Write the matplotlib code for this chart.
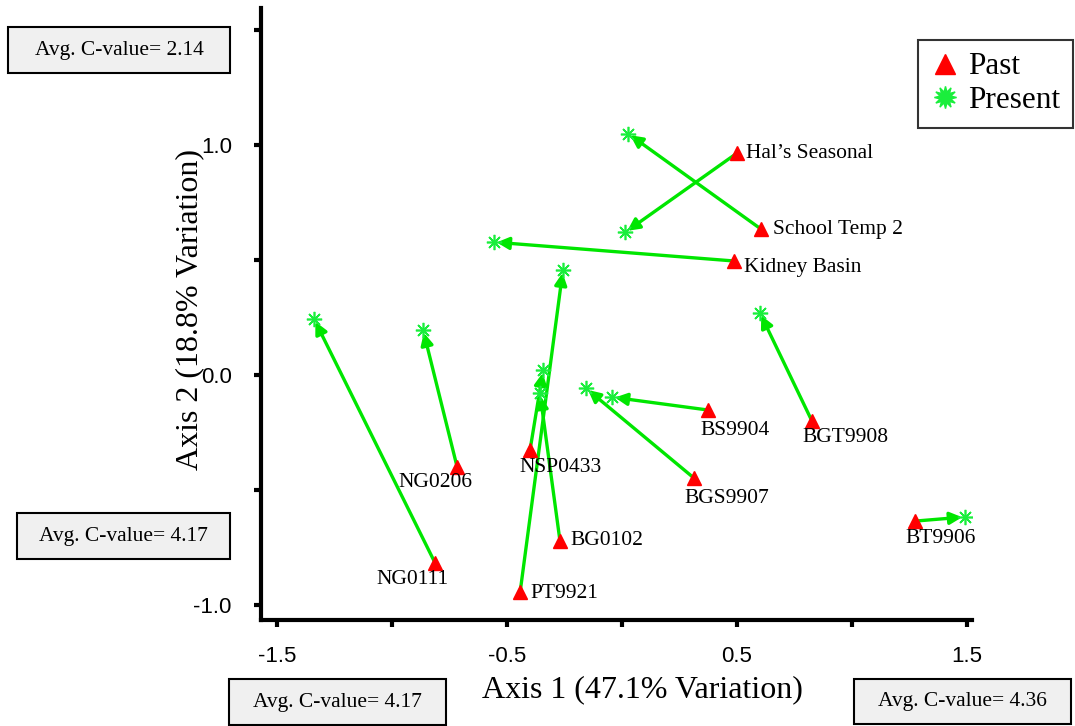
import matplotlib.pyplot as plt
from matplotlib.lines import Line2D
from matplotlib.patches import Rectangle

# site names and ordination scores (past -> present)
sites = ["Hal\u2019s Seasonal", "School Temp 2", "Kidney Basin", "NG0206", "NG0111",
         "NSP0433", "PT9921", "BG0102", "BS9904", "BGS9907", "BGT9908", "BT9906"]
past_x = [0.50, 0.604, 0.487, -0.717, -0.813, -0.40, -0.443, -0.27, 0.374, 0.313, 0.826, 1.274]
past_y = [0.965, 0.635, 0.496, -0.40, -0.817, -0.326, -0.943, -0.72, -0.152, -0.448, -0.20, -0.635]
present_x = [0.013, 0.026, -0.557, -0.865, -1.339, -0.343, -0.257, -0.357, -0.043, -0.157, 0.60, 1.491]
present_y = [0.62, 1.05, 0.578, 0.196, 0.243, 0.022, 0.457, -0.078, -0.096, -0.057, 0.27, -0.617]

cvalue_labels = ["Avg. C-value= 2.14", "Avg. C-value= 4.17", "Avg. C-value= 4.17", "Avg. C-value= 4.36"]

# label offsets in pixels (dx, dy) and alignment
label_layout = [(9, 0, "left"), (12, 0, "left"), (10, -7, "left"), (-22, -15, "center"),
                (-23, -17, "center"), (31, -17, "center"), (10, -2, "left"), (11, 0, "left"),
                (27, -20, "center"), (33, -20, "center"), (34, -16, "center"), (26, -17, "center")]

W, H = 1075, 726
serif = "Liberation Serif"
sans = "Liberation Sans"
green_line = "#00e600"
green_star = "#1aee3c"
red = "#ff0000"

fig = plt.figure(figsize=(W / 100, H / 100), dpi=100)
ax = fig.add_axes([261 / W, 1 - 620 / H, (972 - 261) / W, (620 - 8) / H])

ax.set_xlim(-1.57, 1.522)
ax.set_ylim(-1.065, 1.596)

for sp in ["top", "right"]:
    ax.spines[sp].set_visible(False)
for sp in ["left", "bottom"]:
    ax.spines[sp].set_linewidth(3)

ax.set_xticks([-1.5, -0.5, 0.5, 1.5])
ax.set_xticks([-1.0, 0.0, 1.0], minor=True)
ax.set_yticks([-1.0, 0.0, 1.0])
ax.set_yticks([-0.5, 0.5, 1.5], minor=True)
ax.set_xticklabels(["-1.5", "-0.5", "0.5", "1.5"])
ax.set_yticklabels(["-1.0", "0.0", "1.0"])
ax.tick_params(which="both", length=5, width=3, direction="out")
ax.tick_params(axis="x", which="major", pad=14)
ax.tick_params(axis="y", which="major", pad=16)
for lab in ax.get_xticklabels() + ax.get_yticklabels():
    lab.set_fontfamily(sans)
    lab.set_fontsize(16)

# arrows from past to present
for i in range(len(sites)):
    ax.annotate("", xy=(present_x[i], present_y[i]), xytext=(past_x[i], past_y[i]),
                arrowprops=dict(arrowstyle="-|>", color=green_line, lw=2.4,
                                mutation_scale=18, shrinkA=0, shrinkB=2),
                zorder=2)

ax.plot(present_x, present_y, linestyle="none", marker=(8, 2, 0), markersize=11,
        markeredgewidth=1.2, color=green_star, zorder=3)
ax.plot(past_x, past_y, linestyle="none", marker="^", markersize=10,
        color=red, markeredgecolor=red, zorder=4)

for i, name in enumerate(sites):
    dx, dy, ha = label_layout[i]
    ax.annotate(name, xy=(past_x[i], past_y[i]), xytext=(dx * 0.72, dy * 0.72),
                textcoords="offset points", ha=ha, va="center",
                fontsize=15.5, fontfamily=serif, zorder=5)

fig.text(642 / W, 1 - 690 / H, "Axis 1 (47.1% Variation)", ha="center", va="center",
         fontsize=23, fontfamily=serif)
fig.text(190 / W, 1 - 310 / H, "Axis 2 (18.8% Variation)", ha="center", va="center",
         rotation=90, fontsize=23, fontfamily=serif)

# legend
handles = [Line2D([], [], linestyle="none", marker="^", markersize=14, color=red),
           Line2D([], [], linestyle="none", marker=(12, 1, 0), markersize=16, color=green_star)]
leg = fig.legend(handles, ["Past", "Present"], loc="upper right",
                 bbox_to_anchor=(1073 / W, 1 - 40 / H),
                 prop={"family": serif, "size": 22.5}, frameon=True, fancybox=False,
                 handlelength=0.9, handletextpad=0.3, borderpad=0.4, labelspacing=0.15,
                 borderaxespad=0)
leg.get_frame().set_edgecolor("black")
leg.get_frame().set_linewidth(1.5)

# C-value boxes (pixel rectangles)
boxes = [(8, 27, 230, 73), (17, 513, 230, 559), (229, 679, 446, 725), (854, 679, 1071, 724)]
for (x0, y0, x1, y1), txt in zip(boxes, cvalue_labels):
    fig.add_artist(Rectangle((x0 / W, 1 - y1 / H), (x1 - x0) / W, (y1 - y0) / H,
                             transform=fig.transFigure, facecolor="#f0f0f0",
                             edgecolor="black", linewidth=1.5))
    fig.text((x0 + x1) / 2 / W, 1 - (y0 + y1) / 2 / H, txt, ha="center", va="center",
             fontsize=15.5, fontfamily=serif)

fig.savefig("out.png", dpi=100)
